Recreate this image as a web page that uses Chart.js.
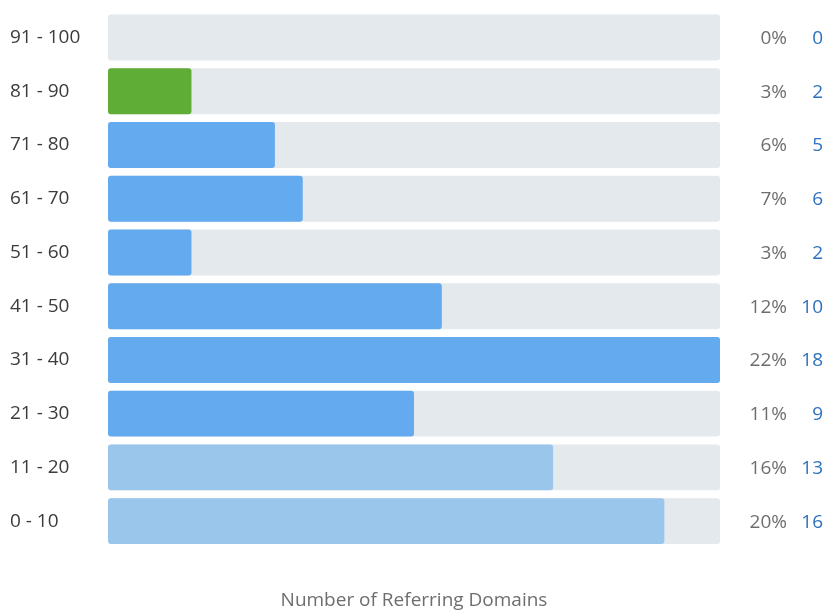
<!DOCTYPE html>
<html>
<head>
<meta charset="utf-8">
<script src="https://cdn.jsdelivr.net/npm/chart.js@4/dist/chart.umd.min.js"></script>
<style>
    html, body { margin: 0; padding: 0; background: #fff; }
    #wrap { width: 828px; height: 610px; }
</style>
</head>
<body>
<div id="wrap"><canvas id="authorityChart"></canvas></div>
<script>
// Score buckets, top to bottom
const ranges = ['91 - 100', '81 - 90', '71 - 80', '61 - 70', '51 - 60', '41 - 50', '31 - 40', '21 - 30', '11 - 20', '0 - 10'];
// Share of referring domains in each bucket (%)
const shares = [0, 3, 6, 7, 3, 12, 22, 11, 16, 20];
// Number of referring domains in each bucket
const domains = [0, 2, 5, 6, 2, 10, 18, 9, 13, 16];

const GREEN = '#5fad37';
const BLUE = '#64aaee';
const LIGHT_BLUE = '#9bc6ec';
const TRACK = '#e3e9ed';
const FONT = "'Open Sans', sans-serif";

const barColors = ranges.map((r, i) => {
    if (i === 1) return GREEN;
    if (i >= 8) return LIGHT_BLUE;
    return BLUE;
});
const trackMax = Math.max(...shares);

// percent + count columns to the right of the tracks
const sideLabels = {
    id: 'sideLabels',
    afterDatasetsDraw(chart) {
        const { ctx, chartArea, scales } = chart;
        ctx.save();
        ctx.font = '19px ' + FONT;
        ctx.textBaseline = 'middle';
        ctx.textAlign = 'right';
        ranges.forEach((r, i) => {
            const y = scales.y.getPixelForValue(i) + 1;
            ctx.fillStyle = '#6e6e6e';
            ctx.fillText(shares[i] + '%', chartArea.right + 67, y);
            ctx.fillStyle = '#2f72bd';
            ctx.fillText(String(domains[i]), chartArea.right + 103, y);
        });
        ctx.restore();
    }
};

document.addEventListener('DOMContentLoaded', () => {
    const ctx = document.getElementById('authorityChart').getContext('2d');

    new Chart(ctx, {
        type: 'bar',
        data: {
            labels: ranges,
            datasets: [
                {
                    label: 'Share',
                    data: shares,
                    backgroundColor: barColors,
                    borderRadius: 3,
                    borderSkipped: false,
                    grouped: false,
                    categoryPercentage: 0.855,
                    barPercentage: 1,
                },
                {
                    label: 'Track',
                    data: ranges.map(() => trackMax),
                    backgroundColor: TRACK,
                    borderRadius: 3,
                    borderSkipped: false,
                    grouped: false,
                    categoryPercentage: 0.855,
                    barPercentage: 1,
                },
            ],
        },
        options: {
            indexAxis: 'y',
            responsive: true,
            maintainAspectRatio: false,
            animation: false,
            layout: { padding: { top: 10, left: 10, right: 108, bottom: 0 } },
            plugins: {
                legend: { display: false },
                tooltip: { enabled: false },
            },
            scales: {
                x: {
                    min: 0,
                    max: trackMax,
                    grid: { display: false, drawTicks: false },
                    border: { display: false },
                    ticks: { display: false },
                    title: {
                        display: true,
                        text: 'Number of Referring Domains',
                        color: '#6e6e6e',
                        font: { family: FONT, size: 19, lineHeight: 1 },
                        padding: { top: 0, bottom: 0 },
                    },
                    afterFit(scale) { scale.height = 62; },
                },
                y: {
                    grid: { display: false, drawTicks: false },
                    border: { display: false },
                    ticks: {
                        crossAlign: 'far',
                        color: '#3b3b3b',
                        font: { family: FONT, size: 19, lineHeight: 0.8 },
                    },
                    afterFit(scale) { scale.width = 98; },
                },
            },
        },
        plugins: [sideLabels],
    });
});
</script>
</body>
</html>
